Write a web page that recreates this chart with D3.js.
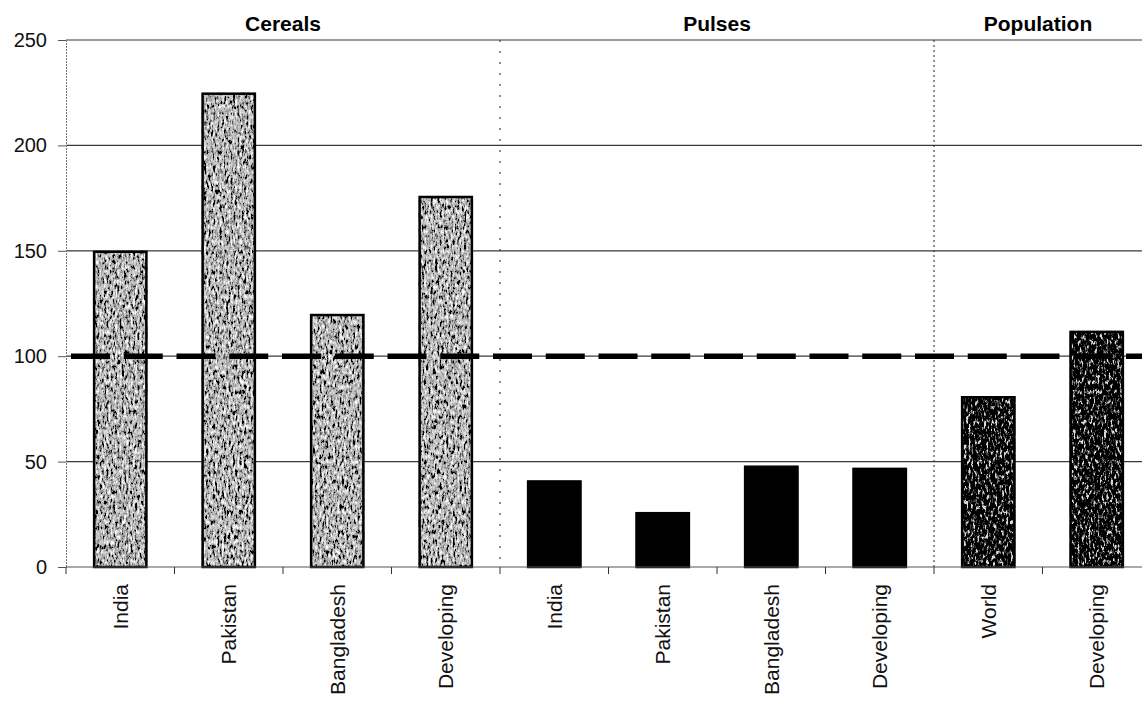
<!DOCTYPE html>
<html>
<head>
<meta charset="utf-8">
<script src="https://cdn.jsdelivr.net/npm/d3@7"></script>
<style>
  body { margin: 0; background: #fff; }
  svg { display: block; font-family: Arial, "Liberation Sans", sans-serif; }
</style>
</head>
<body>
<svg id="chart"></svg>
<script>
// Data
const groups = ["Cereals", "Pulses", "Population"];
const categories = ["India", "Pakistan", "Bangladesh", "Developing",
                    "India", "Pakistan", "Bangladesh", "Developing",
                    "World", "Developing"];
const groupOf = [0, 0, 0, 0, 1, 1, 1, 1, 2, 2];
const values = [150, 225, 120, 176, 41, 26, 48, 47, 81, 112];
const refValue = 100;
const yTicks = [0, 50, 100, 150, 200, 250];

// Constants
const width = 1142;
const height = 701;
const plot = { left: 66, right: 1151, top: 40, bottom: 567 };

const svg = d3.select('#chart')
  .attr('width', width)
  .attr('height', height);

// grainy fills (scanned pattern look)
const defs = svg.append('defs');
function grain(id, table, seed) {
  const f = defs.append('filter').attr('id', id)
    .attr('x', 0).attr('y', 0).attr('width', 1).attr('height', 1);
  f.append('feTurbulence').attr('type', 'fractalNoise')
    .attr('baseFrequency', '0.45 0.2').attr('numOctaves', 4).attr('seed', seed)
    .attr('result', 'noise');
  f.append('feColorMatrix').attr('in', 'noise').attr('type', 'matrix')
    .attr('values', '0.33 0.33 0.33 0 0  0.33 0.33 0.33 0 0  0.33 0.33 0.33 0 0  0 0 0 0 1')
    .attr('result', 'gray');
  const ct = f.append('feComponentTransfer').attr('in', 'gray').attr('result', 'stretch');
  ['feFuncR', 'feFuncG', 'feFuncB'].forEach(fn =>
    ct.append(fn).attr('type', 'linear').attr('slope', 3.5).attr('intercept', -1.25));
  const ct2 = f.append('feComponentTransfer').attr('in', 'stretch').attr('result', 'tone');
  ['feFuncR', 'feFuncG', 'feFuncB'].forEach(fn =>
    ct2.append(fn).attr('type', 'discrete').attr('tableValues', table));
  f.append('feComposite').attr('in', 'tone').attr('in2', 'SourceAlpha').attr('operator', 'in');
}
grain('grainLight', '0 0.1 0.3 0.5 0.6 0.75 0.95', 5);
grain('grainDark', '0 0 0 0 0.05 0.25 0.7', 11);

// Scales
const x = d3.scaleBand()
  .domain(d3.range(categories.length))
  .range([plot.left, plot.right])
  .paddingInner(0.5)
  .paddingOuter(0.25);

const y = d3.scaleLinear()
  .domain([0, 250])
  .range([plot.bottom, plot.top]);

const step = x.step();
const edge = i => plot.left + i * step;

// Gridlines
svg.append('g')
  .selectAll('line')
  .data(yTicks.filter(t => t > 0))
  .enter().append('line')
  .attr('x1', plot.left).attr('x2', width)
  .attr('y1', d => y(d)).attr('y2', d => y(d))
  .attr('stroke', '#3a3a3a')
  .attr('stroke-width', 1.2);

// Y axis
const yAxis = svg.append('g')
  .attr('transform', `translate(${plot.left},0)`)
  .call(d3.axisLeft(y).tickValues(yTicks).tickSize(8).tickPadding(11));
yAxis.select('.domain').attr('stroke', '#777').attr('stroke-dasharray', '2,1');
yAxis.selectAll('.tick line').attr('stroke', '#555');
yAxis.selectAll('text')
  .attr('font-size', '20px')
  .attr('fill', '#111');

// Group separators
const sepIdx = [4, 8];
svg.append('g')
  .selectAll('line')
  .data(sepIdx)
  .enter().append('line')
  .attr('x1', d => edge(d)).attr('x2', d => edge(d))
  .attr('y1', plot.top).attr('y2', plot.bottom)
  .attr('stroke', '#222')
  .attr('stroke-width', 1)
  .attr('stroke-dasharray', (d, i) => i === 0 ? '2,9' : '2,3');

// Bars
const bars = svg.append('g')
  .selectAll('g')
  .data(values)
  .enter().append('g');

bars.append('rect')
  .attr('x', (d, i) => x(i))
  .attr('y', d => y(d))
  .attr('width', x.bandwidth())
  .attr('height', d => y(0) - y(d))
  .attr('fill', (d, i) => groupOf[i] === 1 ? '#000' : '#888')
  .attr('filter', (d, i) => groupOf[i] === 0 ? 'url(#grainLight)' : groupOf[i] === 2 ? 'url(#grainDark)' : null);

bars.append('rect')
  .attr('x', (d, i) => x(i) + 1)
  .attr('y', d => y(d) + 1)
  .attr('width', x.bandwidth() - 2)
  .attr('height', d => y(0) - y(d) - 1)
  .attr('fill', 'none')
  .attr('stroke', '#000')
  .attr('stroke-width', 2.5);

// X axis
svg.append('line')
  .attr('x1', plot.left).attr('x2', width)
  .attr('y1', y(0)).attr('y2', y(0))
  .attr('stroke', '#555')
  .attr('stroke-width', 1.2);

svg.append('g')
  .selectAll('line')
  .data(d3.range(categories.length + 1))
  .enter().append('line')
  .attr('x1', d => edge(d)).attr('x2', d => edge(d))
  .attr('y1', y(0)).attr('y2', y(0) + 7)
  .attr('stroke', '#333');

svg.append('g')
  .selectAll('text')
  .data(categories)
  .enter().append('text')
  .attr('transform', (d, i) => `translate(${x(i) + x.bandwidth() / 2 + 7.5},${y(0) + 17}) rotate(-90)`)
  .attr('text-anchor', 'end')
  .attr('font-size', '21px')
  .attr('fill', '#111')
  .text(d => d);

// Reference line at 100
svg.append('line')
  .attr('x1', plot.left).attr('x2', width)
  .attr('y1', y(refValue)).attr('y2', y(refValue))
  .attr('stroke', '#000')
  .attr('stroke-width', 5.5)
  .attr('stroke-dasharray', '39,13.75')
  .attr('stroke-dashoffset', 47.75);

// Group titles
const groupSpan = groups.map((g, gi) => {
  const idx = d3.range(categories.length).filter(i => groupOf[i] === gi);
  const a = edge(d3.min(idx));
  const b = Math.min(edge(d3.max(idx) + 1), width);
  return (a + b) / 2;
});

svg.append('g')
  .selectAll('text')
  .data(groups)
  .enter().append('text')
  .attr('x', (d, i) => groupSpan[i])
  .attr('y', 31)
  .attr('text-anchor', 'middle')
  .attr('font-size', '21px')
  .attr('font-weight', 'bold')
  .attr('fill', '#000')
  .text(d => d);
</script>
</body>
</html>
